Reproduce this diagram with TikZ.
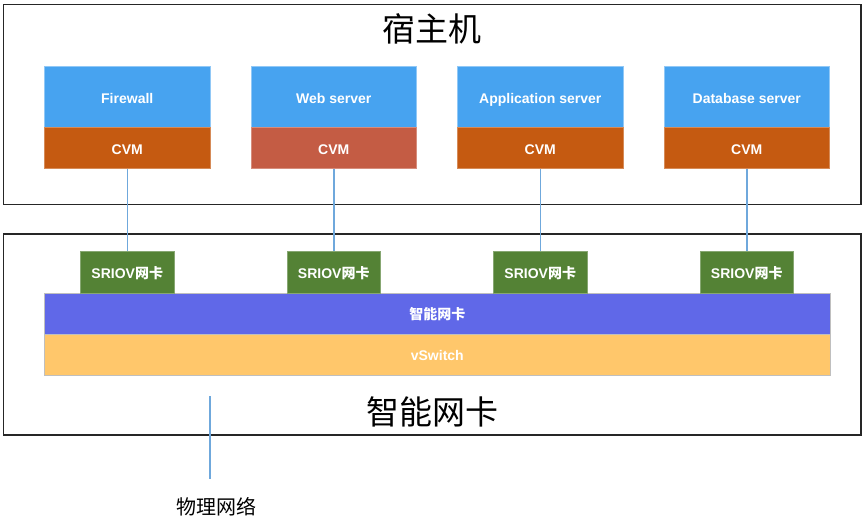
\documentclass[tikz,border=0pt]{standalone}
\usepackage{fontspec}
\setmainfont{Liberation Sans}
\newfontfamily\zhfont{Noto Sans CJK SC}
\newcommand{\zh}[1]{{\zhfont #1}}
\usepackage{tikz}
\usetikzlibrary{positioning}
\definecolor{vmblue}{HTML}{47A3F0}
\definecolor{cvmorange}{HTML}{C55A11}
\definecolor{cvmred}{HTML}{C45C44}
\definecolor{nicgreen}{HTML}{548235}
\definecolor{smartblue}{HTML}{6068E8}
\definecolor{swyellow}{HTML}{FFC76B}
\definecolor{linkblue}{HTML}{6FA8DC}
\tikzset{
  frame/.style={draw=black!85, line width=1.3pt},
  block/.style={rectangle, inner sep=0pt, outer sep=0pt, line width=0.8pt, text=white,
    text height=12pt, text depth=0pt, font=\bfseries\fontsize{14}{16}\selectfont},
  vmbox/.style={block, fill=vmblue, draw=vmblue!60!white, minimum width=165.5pt, minimum height=61pt},
  cvmbox/.style={block, fill=#1, draw=#1!70!white, minimum width=165.5pt, minimum height=41pt},
  nicbox/.style={block, fill=nicgreen, draw=nicgreen!70!white, minimum width=93.5pt, minimum height=42pt},
  barbox/.style={block, fill=#1, draw=black!25, minimum width=786pt, minimum height=41pt},
  link/.style={draw=linkblue, line width=1.5pt},
  title/.style={font=\fontsize{33}{36}\selectfont}
}

\begin{document}
\begin{tikzpicture}[x=1pt, y=-1pt]
  \useasboundingbox (0,0) rectangle (865,522);
  % host
  \draw[frame] (3.5,4.5) rectangle (861,204.5);
  \node[title] (host) at (432,29) {\zh{宿主机}};
  \node[vmbox, anchor=north west] (fw) at (44.5,66.5) {Firewall};
  \node[vmbox, right=41pt of fw] (web) {Web server};
  \node[vmbox, right=41pt of web] (app) {Application server};
  \node[vmbox, right=41pt of app] (db) {Database server};
  \node[cvmbox=cvmorange, below=0pt of fw] (cvm1) {CVM};
  \node[cvmbox=cvmred, below=0pt of web] (cvm2) {CVM};
  \node[cvmbox=cvmorange, below=0pt of app] (cvm3) {CVM};
  \node[cvmbox=cvmorange, below=0pt of db] (cvm4) {CVM};
  % smart nic
  \draw[frame] (3.5,234) rectangle (861,435);
  \node[barbox=smartblue, anchor=north west] (smart) at (44.3,293.3) {\zh{\bfseries 智能网卡}};
  \node[barbox=swyellow, below=0pt of smart] (vsw) {vSwitch};
  \foreach \i in {1,...,4}{
    \node[nicbox, anchor=south] (nic\i) at (cvm\i.south |- smart.north) {SRIOV\zh{\bfseries 网卡}};
    \draw[link] (cvm\i.south) -- (nic\i.north);
  }
  \node[title] (nictitle) at (432,412) {\zh{智能网卡}};
  % uplink
  \coordinate (up) at (210,396);
  \coordinate (down) at (210,479);
  \node[font=\fontsize{20}{22}\selectfont] (phy) at (216.5,507) {\zh{物理网络}};
  \draw[link] (up) -- (down);
\end{tikzpicture}
\end{document}
